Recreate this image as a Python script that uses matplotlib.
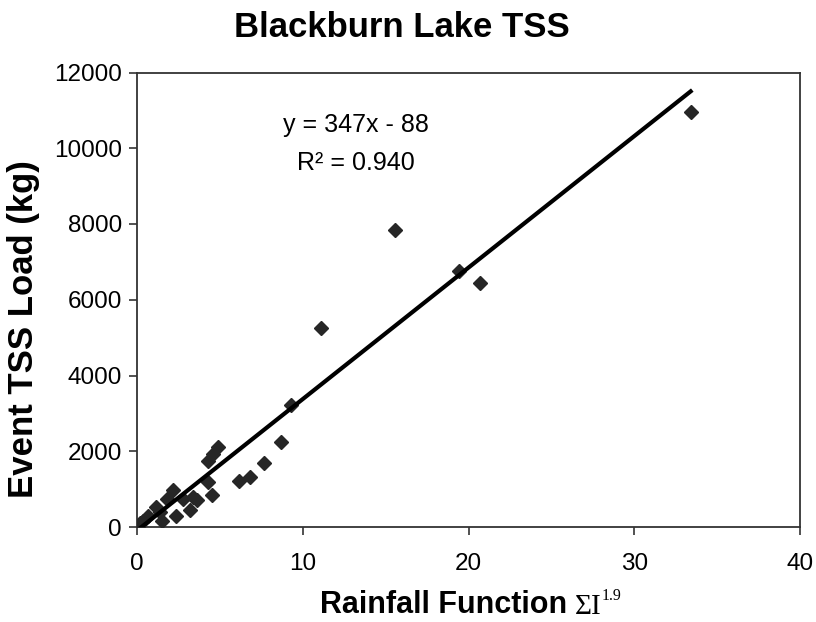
import matplotlib
matplotlib.use("Agg")
import matplotlib.pyplot as plt
import numpy as np

plt.rcParams['font.family'] = ['Liberation Sans', 'DejaVu Sans']

# Data
rain_fn = [0.06, 0.16, 0.36, 0.66, 1.13, 1.37, 1.47, 1.77, 2.17, 2.31, 2.77, 3.17,
           3.37, 3.58, 4.28, 4.28, 4.48, 4.58, 4.89, 6.13, 6.83, 7.63, 8.70, 9.26,
           11.11, 15.58, 19.40, 20.66, 33.40]
tss_load = [26, 114, 159, 291, 530, 405, 159, 734, 972, 291, 734, 442,
            795, 707, 1748, 1200, 848, 1925, 2101, 1219, 1325, 1687, 2233, 3224,
            5263, 7841, 6755, 6445, 10950]
slope = 347
intercept = -88
r2 = 0.940
x_ticks = [0, 10, 20, 30, 40]
y_ticks = [0, 2000, 4000, 6000, 8000, 10000, 12000]

fig = plt.figure(figsize=(8.16, 6.22), dpi=100)
W, H = 816, 622
ax = fig.add_axes([137.3 / W, 1 - 527 / H, (800 - 137.3) / W, (527 - 72.5) / H])

ax.plot(rain_fn, tss_load, linestyle='none', marker='D', markersize=7.2,
        color='#262626', zorder=3)
xf = np.array([0, max(rain_fn)])
ax.plot(xf, slope * xf + intercept, color='black', linewidth=3.0, zorder=4)

ax.set_xlim(0, 40)
ax.set_ylim(0, 12000)
ax.set_xticks(x_ticks)
ax.set_yticks(y_ticks)
ax.tick_params(direction='out', length=6, width=1.2, color='#333333',
               labelsize=17.5, labelcolor='black')
ax.tick_params(axis='x', pad=13)
ax.tick_params(axis='y', pad=5)
for s in ax.spines.values():
    s.set_linewidth(1.3)
    s.set_color('#333333')

ax.text(0.33, 0.870, f"y = {slope}x - {abs(intercept)}", transform=ax.transAxes,
        ha='center', va='baseline', fontsize=18)
ax.text(0.33, 0.7855, f"R\u00b2 = {r2:.3f}", transform=ax.transAxes,
        ha='center', va='baseline', fontsize=18)

fig.text(402 / W, 1 - 37 / H, "Blackburn Lake TSS", ha='center', va='baseline',
         fontsize=25, fontweight='bold')
fig.text(24 / W, 1 - 329 / H, "Event TSS Load (kg)", rotation=90, ha='center',
         va='center', fontsize=25, fontweight='bold')
fig.text(567 / W, 1 - 613 / H, "Rainfall Function", ha='right', va='baseline',
         fontsize=22, fontweight='bold')
fig.text(575 / W, 1 - 614 / H, "\u03a3I", ha='left', va='baseline',
         fontsize=21, family=['Liberation Serif', 'DejaVu Serif'])
fig.text(602 / W, 1 - 600 / H, "1.9", ha='left', va='baseline',
         fontsize=11.5, family=['Liberation Serif', 'DejaVu Serif'])

fig.savefig("out.png", dpi=100, facecolor='white')
